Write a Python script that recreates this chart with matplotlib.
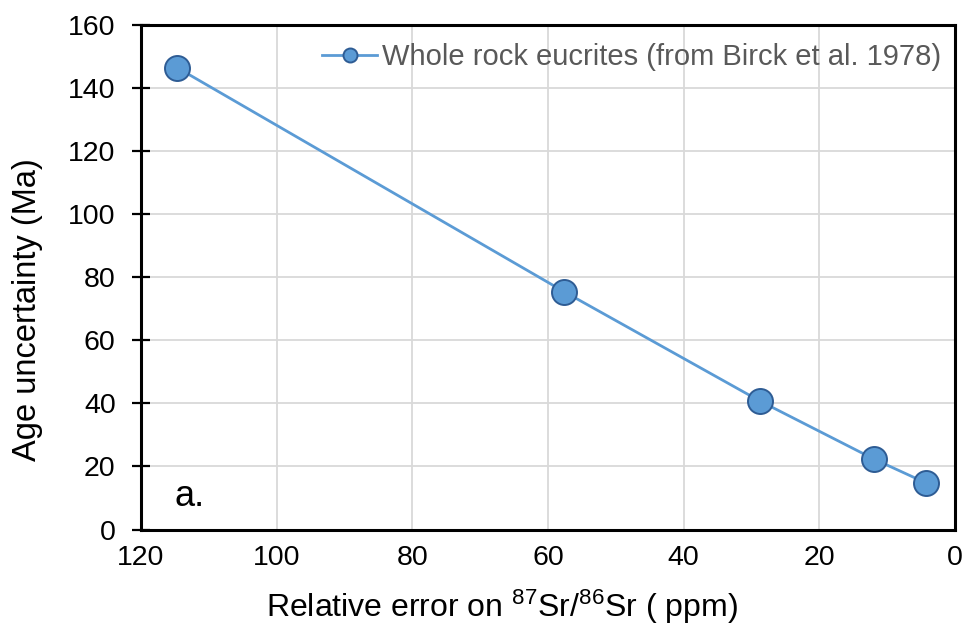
import numpy as np
import matplotlib.pyplot as plt

plt.rcParams['font.family'] = ['Liberation Sans', 'DejaVu Sans']
plt.rcParams['mathtext.fontset'] = 'custom'
plt.rcParams['mathtext.rm'] = 'Liberation Sans'
plt.rcParams['mathtext.it'] = 'Liberation Sans'

# data
rel_error = [114.7, 57.6, 28.8, 12.0, 4.2]
age_unc = [146.5, 75.4, 40.8, 22.4, 14.7]
x_ticks = [120, 100, 80, 60, 40, 20, 0]
y_ticks = [0, 20, 40, 60, 80, 100, 120, 140, 160]

fig = plt.figure(figsize=(9.65, 6.3), dpi=100)
ax = fig.add_axes([0.1461, 0.1595, 0.8435, 0.8008])

ax.plot(rel_error, age_unc, '-o', color='#5b9bd5', lw=2,
        markersize=18, markerfacecolor='#5b9bd5', markeredgecolor='#2e5c94',
        markeredgewidth=1.4, label='Whole rock eucrites (from Birck et al. 1978)',
        zorder=3, clip_on=False)

ax.set_xlim(120, 0)
ax.set_ylim(0, 160)
ax.set_xticks(x_ticks)
ax.set_yticks(y_ticks)
ax.grid(True, color='#d9d9d9', lw=1.3)
ax.set_axisbelow(True)

for s in ['left', 'bottom', 'top', 'right']:
    ax.spines[s].set_linewidth(2.2)

ax.tick_params(axis='both', labelsize=20.5, colors='black')
ax.tick_params(axis='x', length=0, pad=11)
ax.tick_params(axis='y', direction='inout', length=12.5, width=1.6, pad=12)

ax.set_xlabel('Relative error on $\\mathrm{^{87}}$Sr/$\\mathrm{^{86}}$Sr ( ppm)',
              fontsize=23, labelpad=12)
ax.set_ylabel('Age uncertainty (Ma)', fontsize=23.5, labelpad=18)
ax.xaxis.label.set_x(0.4435)
ax.yaxis.label.set_y(0.435)

ax.text(115.0, 7.5, 'a.', fontsize=26)

leg = ax.legend(loc='upper right', bbox_to_anchor=(1.0, 0.992), fontsize=21,
                frameon=False, handlelength=1.9, markerscale=0.56,
                borderaxespad=0.28, handletextpad=0.15, borderpad=0.2)
for t in leg.get_texts():
    t.set_color('#595959')

fig.savefig('out.png', dpi=100)
